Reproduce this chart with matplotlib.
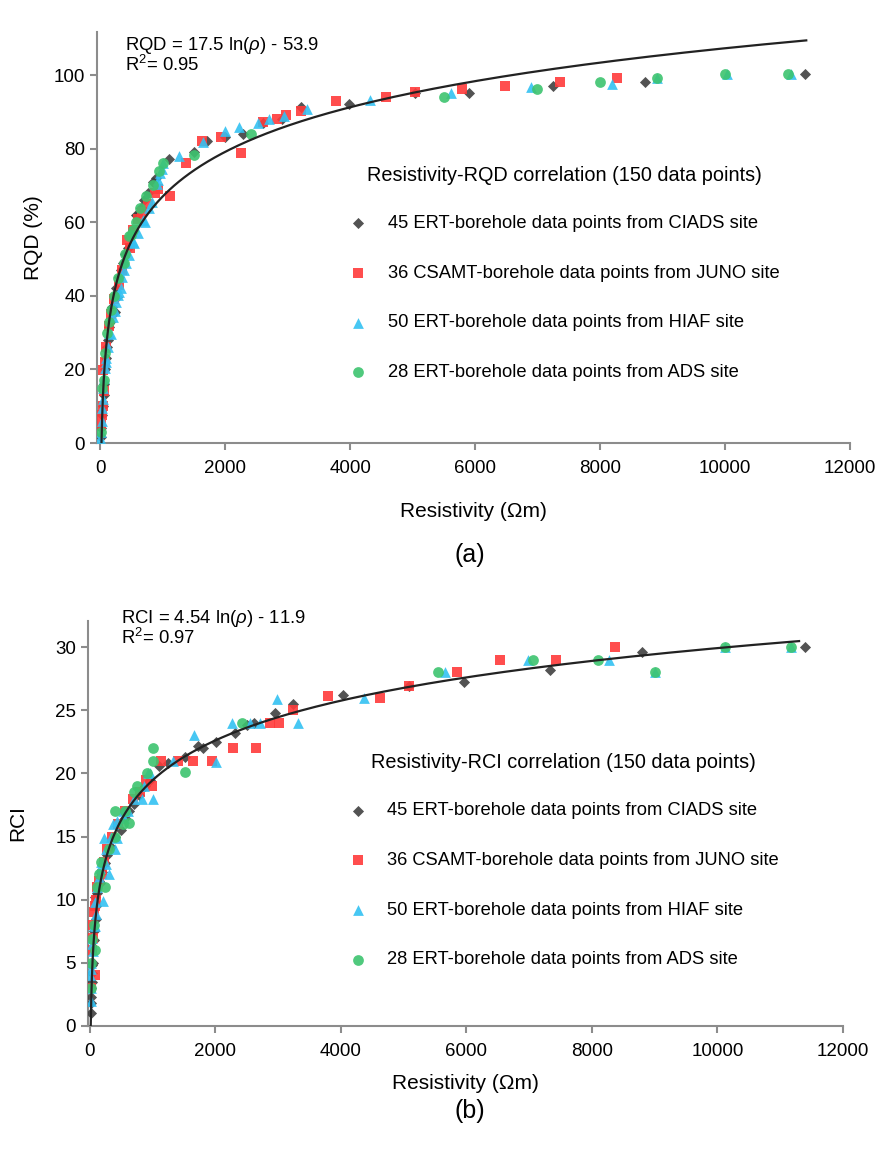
import numpy as np
import matplotlib
matplotlib.use("Agg")
import matplotlib.pyplot as plt

plt.rcParams['font.family'] = ['Liberation Sans', 'DejaVu Sans']
plt.rcParams['mathtext.fontset'] = 'custom'
plt.rcParams['mathtext.rm'] = 'Liberation Sans'
plt.rcParams['mathtext.it'] = 'Liberation Sans:italic'

# ---- panel (a): resistivity vs RQD ----
rqd_ciads_x = [11280, 8720, 7253, 5904, 5040, 3989, 3211, 2907, 2603, 2293, 2000, 1717, 1504, 1104,
               587, 400, 571, 277, 235, 139, 32, 10, 20, 45, 55, 65, 80, 95, 110, 125, 160, 190,
               220, 250, 300, 330, 360, 440, 480, 520, 650, 700, 760, 850, 900]
rqd_ciads_y = [100.2, 98, 97, 95, 95, 92.1, 91.4, 88, 87.1, 84, 83.1, 82.2, 79.2, 77.1,
               62.1, 51.5, 62, 39.8, 35.7, 31.6, 7.6, 1.5, 4, 10, 13, 16, 20, 23, 26, 28, 33, 37,
               40, 42, 45, 47, 49, 53, 56, 58, 64, 66, 68, 71, 72]
rqd_juno_x = [8277, 7360, 6480, 5787, 5040, 4576, 3771, 3216, 2976, 2827, 2603, 2256, 1931, 1627,
              1376, 1120, 933, 880, 667, 533, 437, 357, 139, 101, 48, 32, 20, 60, 80, 180, 230,
              300, 600, 760, 480, 40]
rqd_juno_y = [99.1, 98, 97.1, 96.1, 95.4, 94.1, 93, 90.3, 89.1, 88, 87.3, 78.9, 83.1, 82.2,
              76, 67, 68.9, 68, 62.8, 58, 55.2, 47, 31.8, 26.2, 19.8, 7.6, 5, 14, 22, 35, 39,
              43, 61, 65, 53, 10]
rqd_hiaf_x = [11056, 10027, 8907, 8187, 6896, 5611, 4320, 3307, 2949, 2704, 2523, 2229, 1995, 1653,
              1269, 987, 960, 933, 907, 827, 683, 715, 544, 533, 421, 357, 331, 288, 261, 208,
              171, 101, 75, 59, 32, 5, 15, 25, 40, 50, 90, 120, 150, 240, 310, 390, 460, 600,
              780, 1000]
rqd_hiaf_y = [100.2, 100.2, 99.1, 97.7, 96.8, 95.2, 93.2, 90.7, 88.9, 88, 86.9, 86, 84.8, 81.8,
              78, 74.6, 73.3, 71.6, 70.3, 65.6, 60.6, 60.1, 54.4, 54.7, 48.8, 45.2, 42, 40.2, 38.4, 34.3,
              29.6, 23, 20.3, 17.6, 9.4, 1.3, 3, 6, 12, 15, 22, 26, 30, 36, 41, 47, 51, 57,
              64, 76]
rqd_ads_x = [11000, 10000, 8907, 8000, 6987, 5504, 2416, 1504, 1003, 853, 736, 640, 523, 469,
             491, 405, 384, 288, 171, 117, 85, 32, 10, 60, 140, 230, 580, 950]
rqd_ads_y = [100.2, 100.2, 99.1, 98, 96.1, 94.1, 84, 78.2, 76, 70.1, 67, 63.9, 58, 56.3,
             56.5, 51.5, 49, 44.8, 36.1, 30, 24.4, 14.9, 3.1, 17, 33, 40, 60, 74]

# ---- panel (b): resistivity vs RCI ----
rci_ciads_x = [11394, 8802, 7331, 5966, 5089, 4027, 3240, 2948, 2614, 2311, 2008, 1716, 1514, 1104,
               786, 706, 489, 244, 138, 75, 48, 21, 11, 16, 25, 30, 35, 40, 60, 70, 90, 100,
               120, 160, 200, 280, 330, 400, 560, 620, 880, 950, 1250, 1800, 2500]
rci_ciads_y = [30, 29.6, 28.2, 27.2, 26.9, 26.2, 25.5, 24.8, 24, 23.2, 22.5, 22.2, 21.3, 20.6,
               18.3, 17.6, 15.5, 12.9, 11.5, 10.2, 5, 2.3, 1, 1.8, 3, 3.5, 4.2, 4.8, 6.8, 7.5, 8.5, 9.5,
               10.5, 11.3, 12.2, 13.5, 14.2, 15, 16.5, 17, 19, 19.5, 20.8, 22, 23.8]
rci_juno_x = [8367, 7426, 6534, 5843, 5089, 4622, 3798, 3240, 3012, 2869, 2640, 2274, 1949, 1636,
              1397, 1131, 983, 690, 271, 191, 59, 32, 75, 800, 560, 450, 350, 230, 150, 120,
              100, 85, 45, 40, 25, 900]
rci_juno_y = [30, 29, 29, 28, 26.9, 26, 26.1, 25, 24, 24, 22, 22, 21, 21,
              21, 21, 19, 18, 14, 12, 9, 8, 4, 18.5, 17, 16, 15, 13, 11.5, 11,
              10, 9.5, 7, 6, 3, 19.5]
rci_hiaf_x = [11171, 10120, 9004, 8271, 6985, 5657, 4367, 3318, 2975, 2709, 2550, 2263, 2008, 1662,
              1318, 999, 930, 823, 611, 362, 223, 425, 404, 298, 138, 202, 85, 96, 75, 48,
              5, 16, 960, 870, 700, 520, 330, 260, 180, 160, 110, 60, 40, 30, 25, 20, 12, 550,
              440, 250]
rci_hiaf_y = [30, 30, 28, 29, 29, 28, 26, 24, 25.9, 24, 24, 24, 20.9, 23,
              21, 18, 20, 18, 17, 16, 14.9, 14.9, 14, 12, 11.8, 9.9, 9.8, 8.9, 7.9, 5.9,
              4, 3, 20, 19, 18, 17, 15, 14, 13, 12.5, 11, 8, 7, 6.5, 5, 4.5, 2, 16.5,
              16.2, 12.8]
rci_ads_x = [11171, 10120, 9004, 8090, 7065, 5551, 2427, 1514, 999, 999, 903, 744, 398, 626,
             521, 308, 180, 244, 112, 32, 85, 10, 560, 700, 140, 60, 400, 20]
rci_ads_y = [30, 30, 28, 29, 29, 28, 24, 20.1, 22, 21, 20, 19, 17, 16.1,
             16, 14, 13, 11, 11, 6.9, 6, 5, 17, 18.5, 12, 8, 15, 3]

labels = ["45 ERT-borehole data points from CIADS site",
          "36 CSAMT-borehole data points from JUNO site",
          "50 ERT-borehole data points from HIAF site",
          "28 ERT-borehole data points from ADS site"]
colors = ['#404040', '#ff3b3b', '#33c1f2', '#3dc46f']
markers = ['D', 's', '^', 'o']
sizes = [32, 45, 60, 60]

W, H = 881, 1151
fig = plt.figure(figsize=(W / 100, H / 100), dpi=100)


def make_axes(l, r, b, t):
    return fig.add_axes([l / W, 1 - b / H, (r - l) / W, (b - t) / H])


def style(ax):
    for s in ['top', 'right']:
        ax.spines[s].set_visible(False)
    for s in ['left', 'bottom']:
        ax.spines[s].set_color('#8c8c8c')
        ax.spines[s].set_linewidth(1.5)
    ax.tick_params(colors='#8c8c8c', width=1.5, length=5, labelsize=13.5, labelcolor='black')
    ax.tick_params(axis='x', pad=7)
    ax.set_xticks(np.arange(0, 12001, 2000))


def panel(ax, xs, ys, a, b, ytitle, ttl, leg_x, xpad, ypad):
    hs = []
    for x, y, c, m, s, lab in zip(xs, ys, colors, markers, sizes, labels):
        hs.append(ax.scatter(x, y, c=c, marker=m, s=s, alpha=0.9, linewidths=0, label=lab, zorder=3))
    x0 = np.exp(-b / a)
    xx = np.geomspace(x0, 11300, 400)
    ax.plot(xx, a * np.log(xx) + b, color='#222222', lw=1.6, zorder=4)
    ax.set_xlabel("Resistivity (Ωm)", fontsize=15, labelpad=xpad)
    ax.set_ylabel(ytitle, fontsize=15, labelpad=ypad)
    leg = ax.legend(handles=hs, title=ttl, loc='upper left', frameon=False,
                    bbox_to_anchor=(leg_x, 0.715), fontsize=13.2, title_fontsize=14.3,
                    handlelength=1.0, handletextpad=1.1, labelspacing=1.78, scatterpoints=1)
    leg._legend_box.sep = 22
    style(ax)


ax1 = make_axes(97, 850, 443, 32)
ax1.set_xlim(-50, 12000)
ax1.set_ylim(0, 111.7)
ax1.set_yticks(np.arange(0, 101, 20))
panel(ax1, [rqd_ciads_x, rqd_juno_x, rqd_hiaf_x, rqd_ads_x],
      [rqd_ciads_y, rqd_juno_y, rqd_hiaf_y, rqd_ads_y], 17.5, -53.9, "RQD (%)",
      "Resistivity-RQD correlation (150 data points)", 0.313, 18, 8)

ax2 = make_axes(88, 843, 1026, 621)
ax2.set_xlim(-30, 12000)
ax2.set_ylim(0, 32.06)
ax2.set_yticks(np.arange(0, 31, 5))
panel(ax2, [rci_ciads_x, rci_juno_x, rci_hiaf_x, rci_ads_x],
      [rci_ciads_y, rci_juno_y, rci_hiaf_y, rci_ads_y], 4.54, -11.9, "RCI",
      "Resistivity-RCI correlation (150 data points)", 0.323, 10, 20)

fig.text(125 / W, 1 - 35 / H, "RQD = 17.5 ln($\\mathit{\\rho}$) - 53.9\nR$^2$= 0.95",
         fontsize=13.3, va='top', linespacing=0.95)
fig.text(121 / W, 1 - 608 / H, "RCI = 4.54 ln($\\mathit{\\rho}$) - 11.9\nR$^2$= 0.97",
         fontsize=13.3, va='top', linespacing=0.95)

fig.text(470 / W, 1 - 555 / H, "(a)", ha='center', va='center', fontsize=18)
fig.text(470 / W, 1 - 1111 / H, "(b)", ha='center', va='center', fontsize=18)

fig.savefig("out.png", dpi=100)
